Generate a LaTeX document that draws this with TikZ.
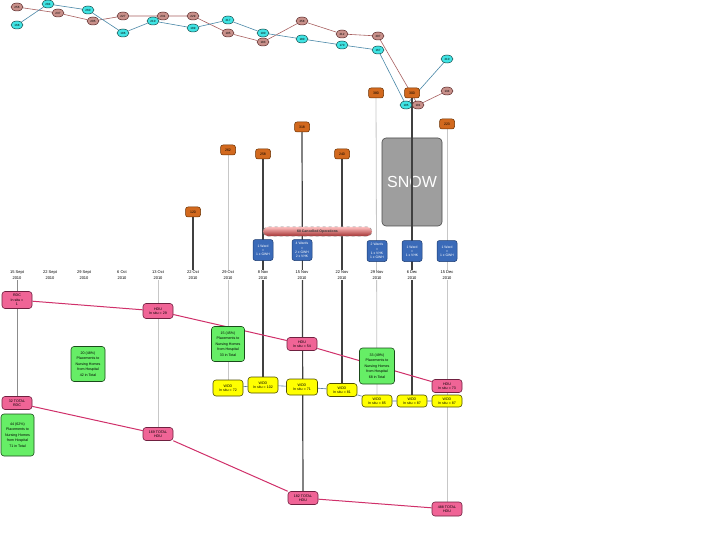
\documentclass[tikz,border=0pt]{standalone}
\usepackage{fontspec}
\setmainfont{Liberation Sans}
\usetikzlibrary{shapes.geometric}
\pgfdeclarelayer{back}
\pgfdeclarelayer{bg}
\pgfsetlayers{back,bg,main}
\definecolor{brnF}{HTML}{C8908A}
\definecolor{brnD}{HTML}{5A2A2A}
\definecolor{brnL}{HTML}{A86060}
\definecolor{cynF}{HTML}{40E4E4}
\definecolor{cynD}{HTML}{1A4A4A}
\definecolor{cynL}{HTML}{4A88A8}
\definecolor{orgF}{HTML}{D2691E}
\definecolor{orgD}{HTML}{6A3000}
\definecolor{bluF}{HTML}{3A6AB8}
\definecolor{bluD}{HTML}{1A3A70}
\definecolor{pnkF}{HTML}{F06496}
\definecolor{pnkD}{HTML}{702040}
\definecolor{pnkL}{HTML}{D0306A}
\definecolor{grnF}{HTML}{66EE66}
\definecolor{grnD}{HTML}{1A4A1A}
\definecolor{yelF}{HTML}{FFFF00}
\definecolor{yelD}{HTML}{505000}
\definecolor{yelL}{HTML}{5078A0}
\begin{document}
\begin{tikzpicture}[x=1pt,y=-1pt,
  brn/.style={ellipse,draw=brnD,fill=brnF,line width=0.5,minimum width=12,minimum height=8,inner sep=0,font=\fontsize{3}{3}\selectfont},
  cyn/.style={ellipse,draw=cynD,fill=cynF,line width=0.5,minimum width=12,minimum height=8,inner sep=0,font=\fontsize{3}{3}\selectfont},
  org/.style={rectangle,rounded corners=2.5,draw=orgD,fill=orgF,line width=0.5,minimum width=15,minimum height=10,inner sep=0,font=\fontsize{3.5}{4}\selectfont},
  blu/.style={rectangle,rounded corners=2.5,draw=bluD,fill=bluF,line width=0.5,text=white,minimum width=20,minimum height=21,inner sep=0,align=center,font=\fontsize{3.4}{4.2}\selectfont},
  pnk/.style={rectangle,rounded corners=3,draw=pnkD,fill=pnkF,line width=0.6,minimum width=30,minimum height=13,inner sep=0,align=center,font=\fontsize{3.6}{4.4}\selectfont},
  grn/.style={rectangle,rounded corners=3,draw=grnD,fill=grnF,line width=0.6,minimum width=34,minimum height=35,inner sep=0,align=center,font=\fontsize{3.6}{5.4}\selectfont},
  yel/.style={rectangle,rounded corners=3,draw=yelD,fill=yelF,line width=0.6,minimum width=30,minimum height=15,inner sep=0,align=center,font=\fontsize{3.6}{4.4}\selectfont},
  dat/.style={fill=white,inner sep=0.6,align=center,font=\fontsize{4}{5.5}\selectfont},
  dk/.style={draw=black!75,line width=1.2},
  lt/.style={draw=black!22,line width=0.8},
  md/.style={draw=black!45,line width=0.8},
  bline/.style={draw=brnL,line width=0.6},
  cline/.style={draw=cynL,line width=0.6},
  pline/.style={draw=pnkL,line width=1},
  yline/.style={draw=yelL,line width=0.6}
]
\useasboundingbox (0,0) rectangle (720,540);
\begin{pgfonlayer}{back}
\fill[white] (0,0) rectangle (720,540);
\end{pgfonlayer}

% top chart: brown series
\node[brn] (b1) at (17,7) {256};
\node[brn] (b2) at (58,13) {237};
\node[brn] (b3) at (93,21) {205};
\node[brn] (b4) at (123,16) {227};
\node[brn] (b5) at (163,16) {231};
\node[brn] (b6) at (193,16) {229};
\node[brn] (b7) at (228,33) {195};
\node[brn] (b8) at (263,42) {183};
\node[brn] (b9) at (302,21) {258};
\node[brn] (b10) at (342,34) {212};
\node[brn] (b11) at (378,36) {207};
\node[brn] (b12) at (418,105) {101};
\node[brn] (b13) at (447,91) {134};
% cyan series
\node[cyn] (c1) at (17,25) {168};
\node[cyn] (c2) at (48,4) {284};
\node[cyn] (c3) at (88,10) {260};
\node[cyn] (c4) at (123,33) {186};
\node[cyn] (c5) at (153,21) {210};
\node[cyn] (c6) at (193,28) {189};
\node[cyn] (c7) at (228,20) {217};
\node[cyn] (c8) at (263,33) {190};
\node[cyn] (c9) at (302,39) {180};
\node[cyn] (c10) at (342,45) {170};
\node[cyn] (c11) at (378,50) {167};
\node[cyn] (c12) at (406,105) {105};
\node[cyn] (c13) at (447,59) {210};

% orange boxes
\node[org] (o1) at (193,212) {120};
\node[org] (o2) at (228,150) {262};
\node[org] (o3) at (263,154) {258};
\node[org] (o4) at (302,127) {318};
\node[org] (o5) at (342,154) {240};
\node[org] (o6) at (376,93) {380};
\node[org] (o7) at (412,93) {300};
\node[org] (o8) at (447,124) {223};

% snow box
\begin{pgfonlayer}{back}
\node[rectangle,rounded corners=4,draw=black!70,fill=black!38,line width=0.6,minimum width=60,minimum height=88,inner sep=0,text=white,font=\fontsize{16}{16}\selectfont] (snow) at (412,182) {SNOW};
\end{pgfonlayer}

% cancelled operations pill
\node[rectangle,rounded corners=4.5,draw=black!45,dashed,line width=0.5,top color=red!25,bottom color=red!55!black!80!white,minimum width=109,minimum height=9,inner sep=0,font=\fontsize{3.5}{4}\selectfont\bfseries,text=black!80] (pill) at (317.5,231.5) {60 Cancelled Operations};

% blue boxes
\node[blu] (bl1) at (263,250) {1 Ward\\=\\1 x GWH};
\node[blu] (bl2) at (302,250) {4 Wards\\=\\2 x GWH\\2 x VHK};
\node[blu] (bl3) at (377,251) {2 Wards\\=\\1 x VHK\\1 x GWH};
\node[blu] (bl4) at (412,251) {1 Ward\\=\\1 x VHK};
\node[blu] (bl5) at (447,251) {1 Ward\\=\\1 x GWH};

% dates
\node[dat] (d1) at (17,275) {15 Sept\\2010};
\node[dat] (d2) at (50,275) {22 Sept\\2010};
\node[dat] (d3) at (84,275) {29 Sept\\2010};
\node[dat] (d4) at (122,275) {6 Oct\\2010};
\node[dat] (d5) at (158,275) {13 Oct\\2010};
\node[dat] (d6) at (193,275) {22 Oct\\2010};
\node[dat] (d7) at (228,275) {29 Oct\\2010};
\node[dat] (d8) at (263,275) {8 Nov\\2010};
\node[dat] (d9) at (302,275) {15 Nov\\2010};
\node[dat] (d10) at (342,275) {22 Nov\\2010};
\node[dat] (d11) at (377,275) {29 Nov\\2010};
\node[dat] (d12) at (412,275) {6 Dec\\2010};
\node[dat] (d13) at (447,275) {15 Dec\\2010};

% pink boxes
\node[pnk,minimum height=17] (p1) at (17,300) {RDC\\In situ =\\1};
\node[pnk,minimum height=15] (p2) at (158,311) {HDU\\In situ = 29};
\node[pnk] (p3) at (302,344) {HDU\\In situ = 54};
\node[pnk] (p4) at (447,386) {HDU\\In situ = 73};
\node[pnk] (p5) at (17,403) {32 TOTAL\\RDC};
\node[pnk] (p6) at (158,434) {169 TOTAL\\HDU};
\node[pnk] (p7) at (303,498) {182 TOTAL\\HDU};
\node[pnk,minimum height=14] (p8) at (447,509) {488 TOTAL\\HDU};

% green boxes
\node[grn] (g1) at (88,364) {20 (48\%)\\Placements to\\Nursing Homes\\from Hospital\\42 in Total};
\node[grn,minimum width=33,minimum height=42] (g2) at (17.5,435) {44 (62\%)\\Placements to\\Nursing Homes\\from Hospital\\71 in Total};
\node[grn,minimum width=33] (g3) at (228,344) {15 (45\%)\\Placements to\\Nursing Homes\\from Hospital\\33 in Total};
\node[grn,minimum width=35,minimum height=36] (g4) at (377,366) {33 (49\%)\\Placements to\\Nursing Homes\\from Hospital\\68 in Total};

% yellow boxes
\node[yel,minimum height=16] (y1) at (228,388) {WDD\\In situ = 72};
\node[yel,minimum height=16] (y2) at (263,385) {WDD\\In situ = 102};
\node[yel,minimum height=16,minimum width=31] (y3) at (302,387) {WDD\\In situ = 71};
\node[yel,minimum height=13] (y4) at (342,390) {WDD\\In situ = 81};
\node[yel,minimum height=12] (y5) at (377,401) {WDD\\In situ = 85};
\node[yel,minimum height=12] (y6) at (412,401) {WDD\\In situ = 87};
\node[yel,minimum height=12] (y7) at (447,401) {WDD\\In situ = 87};

\begin{pgfonlayer}{bg}
% chart lines
\draw[bline] (b1)--(b2)--(b3)--(b4)--(b5)--(b6)--(b7)--(b8)--(b9)--(b10)--(b11)--(b12)--(b13);
\draw[cline] (c1)--(c2)--(c3)--(c4)--(c5)--(c6)--(c7)--(c8)--(c9)--(c10)--(c11)--(c12)--(c13);
% vertical lines
\draw[md] (d1) -- (p5);
\draw[lt] (d5) -- (p6);
\draw[dk,line width=1.6] (o1) -- (d6);
\draw[lt] (o2) -- (y1);
\draw[dk] (o3) -- (y2);
\draw[dk] (o4) -- (p7);
\draw[dk] (o5) -- (y4);
\draw[lt] (o6) -- (y5);
\draw[dk] (o7) -- (y6);
\draw[lt] (o8) -- (p8);
% pink connectors
\draw[pline] (p1) -- (p2) -- (p3) -- (p4);
\draw[pline] (p5) -- (p6) -- (p7) -- (p8);
% yellow connectors
\draw[yline] (y1) -- (y2) -- (y3) -- (y4) -- (y5) -- (y6) -- (y7);
\end{pgfonlayer}
\end{tikzpicture}
\end{document}
